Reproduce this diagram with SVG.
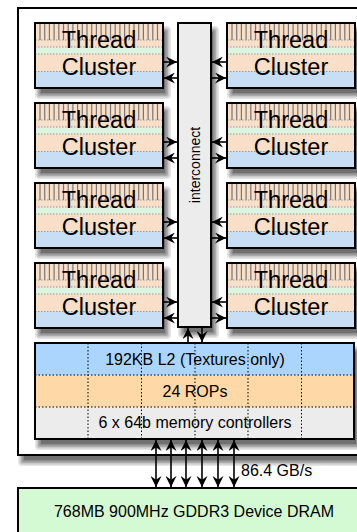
<svg xmlns="http://www.w3.org/2000/svg" width="357" height="532" viewBox="0 0 357 532">
<defs>
<marker id="ah" viewBox="0 0 10 10" refX="10" refY="5" markerWidth="11" markerHeight="11" markerUnits="userSpaceOnUse" orient="auto-start-reverse">
<path d="M0,0 L10,5 L0,10 L3.5,5 z" fill="#000"/>
</marker>
<g id="shc">
<rect x="0" y="3" width="136" height="73" rx="4" fill="#e6e6e6"/>
<rect x="1.5" y="4.5" width="133" height="70" rx="3" fill="#c9c9c9"/>
<rect x="3" y="6" width="130" height="67" rx="2" fill="#ababab"/>
<rect x="4.5" y="7.5" width="127" height="64" rx="1" fill="#8d8d8d"/>
<rect x="6" y="9" width="124" height="61" fill="#707070"/>
</g>
<g id="cl">
<rect x="0" y="0" width="128" height="65" fill="#f9dec8"/>
<rect x="0" y="24" width="128" height="7" fill="#ddf5de"/>
<rect x="0" y="48.5" width="128" height="16.5" fill="#c8def4"/>
<g stroke="#777" stroke-width="1.2">
<path d="M5,1V17M9.7,1V17M14.4,1V17M19.1,1V17M23.8,1V17M28.5,1V17M33.2,1V17M37.9,1V17M42.6,1V17M47.3,1V17M52,1V17M56.7,1V17M61.4,1V17M66.1,1V17M70.8,1V17M75.5,1V17M80.2,1V17M84.9,1V17M89.6,1V17M94.3,1V17M99,1V17M103.7,1V17M108.4,1V17M113.1,1V17M117.8,1V17M122.5,1V17"/>
</g>
<g stroke="#999" stroke-width="1" stroke-dasharray="1.5,1.5">
<path d="M0,17H128M0,24H128M0,31H128M0,48.5H128"/>
</g>
<rect x="0" y="0" width="128" height="65" fill="none" stroke="#000" stroke-width="2"/>
<text x="64" y="25" class="t">Thread</text>
<text x="64" y="52" class="t">Cluster</text>
</g>
</defs>
<style>
text{font-family:"Liberation Sans",Arial,sans-serif;fill:#000}
.t{font-size:23.5px;text-anchor:middle}
.m{font-size:16px;text-anchor:middle}
.c{stroke:#000;stroke-width:1.6;fill:none;marker-end:url(#ah)}
.d{stroke:#000;stroke-width:1.6;fill:none;marker-end:url(#ah);marker-start:url(#ah)}
.dot{stroke:#000;stroke-width:1;stroke-dasharray:1.5,2;fill:none}
</style>
<rect width="357" height="532" fill="#fff"/>
<g id="chip">
<rect x="18" y="11" width="358" height="455" rx="4" fill="#e6e6e6"/>
<rect x="19.5" y="12.5" width="355" height="452" rx="3" fill="#c9c9c9"/>
<rect x="21" y="14" width="352" height="449" rx="2" fill="#ababab"/>
<rect x="22.5" y="15.5" width="349" height="446" rx="1" fill="#8d8d8d"/>
<rect x="24" y="17" width="346" height="443" fill="#707070"/>
<rect x="18" y="8" width="350" height="447" fill="#fff" stroke="#000" stroke-width="2"/>
</g>
<g id="shadows">
<rect x="178" y="26" width="41" height="312" rx="4" fill="#e6e6e6"/>
<rect x="179.5" y="27.5" width="38" height="309" rx="3" fill="#c9c9c9"/>
<rect x="181" y="29" width="35" height="306" rx="2" fill="#ababab"/>
<rect x="182.5" y="30.5" width="32" height="303" rx="1" fill="#8d8d8d"/>
<rect x="184" y="32" width="29" height="300" fill="#707070"/>
<use href="#shc" x="35" y="23"/>
<use href="#shc" x="35" y="103"/>
<use href="#shc" x="35" y="183"/>
<use href="#shc" x="35" y="263"/>
<use href="#shc" x="227" y="23"/>
<use href="#shc" x="227" y="103"/>
<use href="#shc" x="227" y="183"/>
<use href="#shc" x="227" y="263"/>
<rect x="35" y="346" width="327" height="104" rx="4" fill="#e6e6e6"/>
<rect x="36.5" y="347.5" width="324" height="101" rx="3" fill="#c9c9c9"/>
<rect x="38" y="349" width="321" height="98" rx="2" fill="#ababab"/>
<rect x="39.5" y="350.5" width="318" height="95" rx="1" fill="#8d8d8d"/>
<rect x="41" y="352" width="315" height="92" fill="#707070"/>
</g>
<g id="interconnect">
<rect x="178" y="23" width="33" height="304" fill="#ececec" stroke="#000" stroke-width="2"/>
<text transform="translate(200,165) rotate(-90)" font-size="14" text-anchor="middle">interconnect</text>
</g>
<g id="tc1"><use href="#cl" x="35" y="23"/></g>
<g id="tc2"><use href="#cl" x="35" y="103"/></g>
<g id="tc3"><use href="#cl" x="35" y="183"/></g>
<g id="tc4"><use href="#cl" x="35" y="263"/></g>
<g id="tc5"><use href="#cl" x="227" y="23"/></g>
<g id="tc6"><use href="#cl" x="227" y="103"/></g>
<g id="tc7"><use href="#cl" x="227" y="183"/></g>
<g id="tc8"><use href="#cl" x="227" y="263"/></g>
<g id="memsys">
<rect x="35" y="343" width="319" height="32" fill="#abd5fc"/>
<rect x="35" y="375" width="319" height="32" fill="#ffd8a8"/>
<rect x="35" y="407" width="319" height="32" fill="#ececec"/>
<path class="dot" d="M35,375H354M35,407H354M88,343V439M141.5,343V439M195,343V439M248,343V439M301.5,343V439"/>
<rect x="35" y="343" width="319" height="96" fill="none" stroke="#000" stroke-width="2"/>
<text x="195" y="365" class="m">192KB L2 (Textures only)</text>
<text x="195" y="397" class="m">24 ROPs</text>
<text x="195" y="428" class="m">6 x 64b memory controllers</text>
</g>
<g id="dram">
<rect x="18" y="488" width="350" height="60" fill="#d4fad4" stroke="#000" stroke-width="2"/>
<text x="194" y="517" class="m">768MB 900MHz GDDR3 Device DRAM</text>
</g>
<g id="connectors">
<path class="c" d="M164,62H177"/>
<path class="c" d="M177,78H164"/>
<path class="c" d="M164,142H177"/>
<path class="c" d="M177,158H164"/>
<path class="c" d="M164,222H177"/>
<path class="c" d="M177,238H164"/>
<path class="c" d="M164,302H177"/>
<path class="c" d="M177,318H164"/>
<path class="c" d="M226,62H212"/>
<path class="c" d="M212,78H226"/>
<path class="c" d="M226,142H212"/>
<path class="c" d="M212,158H226"/>
<path class="c" d="M226,222H212"/>
<path class="c" d="M212,238H226"/>
<path class="c" d="M226,302H212"/>
<path class="c" d="M212,318H226"/>
<path class="c" d="M188,342V328"/>
<path class="c" d="M202,328V342"/>
<path class="d" d="M156,440V487"/>
<path class="d" d="M171,440V487"/>
<path class="d" d="M186,440V487"/>
<path class="d" d="M202,440V487"/>
<path class="d" d="M218,440V487"/>
<path class="d" d="M234,440V487"/>
<text x="241" y="476" font-size="16">86.4 GB/s</text>
</g>
</svg>
